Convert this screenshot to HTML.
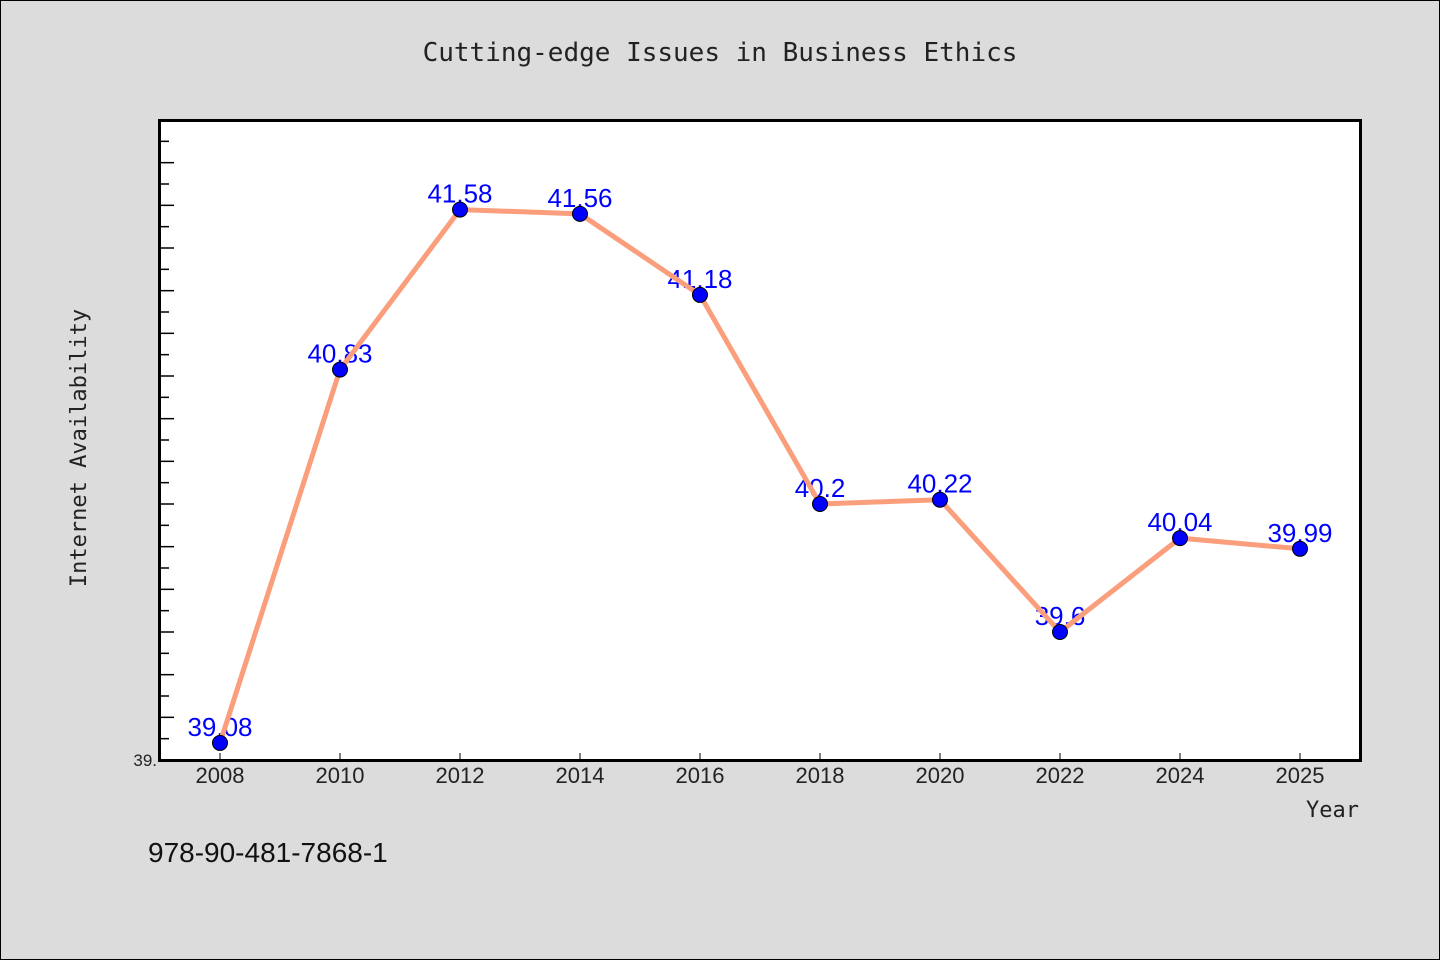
<!DOCTYPE html>
<html><head><meta charset="utf-8"><style>
html,body{margin:0;padding:0;background:#dcdcdc;}
svg{display:block;}
text{font-family:"Liberation Sans","DejaVu Sans",sans-serif;}
.mono{font-family:"DejaVu Sans Mono","Liberation Mono",monospace;}
</style></head><body>
<svg id="chart" width="1440" height="960" viewBox="0 0 1440 960">
<rect x="0.5" y="0.5" width="1439" height="959" fill="#dcdcdc" stroke="#000" stroke-width="1"/>
<text class="mono" x="720" y="61" font-size="26" text-anchor="middle" fill="#222">Cutting-edge Issues in Business Ethics</text>
<rect x="159.5" y="120.5" width="1201" height="640" fill="#fff"/>
<g id="yticks"></g>
<g id="xticks"></g>
<g id="labels"></g>
<polyline id="line" fill="none" stroke="#fa9e7c" stroke-width="5" stroke-linejoin="round"/>
<g id="points"></g>
<rect x="159.5" y="120.5" width="1201" height="640" fill="none" stroke="#000" stroke-width="3"/>
<text x="157" y="766" font-size="17" text-anchor="end" fill="#222">39.</text>
<text class="mono" x="1359" y="817" font-size="22" text-anchor="end" fill="#222">Year</text>
<text class="mono" x="86" y="448" font-size="22" text-anchor="middle" fill="#222" transform="rotate(-90 86 448)">Internet Availability</text>
<text x="148" y="862" font-size="28" fill="#111">978-90-481-7868-1</text>
</svg>
<script>
const categories=["2008","2010","2012","2014","2016","2018","2020","2022","2024","2025"];
const values=[39.08,40.83,41.58,41.56,41.18,40.2,40.22,39.6,40.04,39.99];
const valueLabels=["39.08","40.83","41.58","41.56","41.18","40.2","40.22","39.6","40.04","39.99"];
const yMin=39,yMax=42;
const NS="http://www.w3.org/2000/svg";
const L=160,T=120,B=760,step=120,x0=220;
function xs(i){return x0+i*step;}
function ys(v){return B-(v-yMin)/(yMax-yMin)*(B-T);}
function mk(tag,attrs,parent){const e=document.createElementNS(NS,tag);for(const k in attrs)e.setAttribute(k,attrs[k]);parent.appendChild(e);return e;}
const yt=document.getElementById('yticks');
for(let k=1;k<30;k++){const v=yMin+k*0.1;const y=ys(v);const len=(k%2===0)?14:9;
const t=mk('line',{x1:L,x2:L+len,y1:y,y2:y,stroke:'#000','stroke-width':1.5},yt);

}
const xt=document.getElementById('xticks');
categories.forEach((c,i)=>{const x=xs(i);
const t=mk('line',{x1:x,x2:x,y1:B,y2:B-7,stroke:'#000','stroke-width':1},xt);


const tx=mk('text',{x:x,y:783,'font-size':22,'text-anchor':'middle',fill:'#222'},xt);tx.textContent=c;

});
const lb=document.getElementById('labels');
values.forEach((v,i)=>{const tx=mk('text',{x:xs(i),y:ys(v)-7,'font-size':26,'text-anchor':'middle',fill:'#0000ff'},lb);tx.textContent=valueLabels[i];

});
document.getElementById('line').setAttribute('points',values.map((v,i)=>xs(i)+','+ys(v)).join(' '));
const pt=document.getElementById('points');
values.forEach((v,i)=>{const c=mk('circle',{cx:xs(i),cy:ys(v),r:7.5,fill:'#0000ff',stroke:'#000','stroke-width':1},pt);

});
</script>
</body></html>
